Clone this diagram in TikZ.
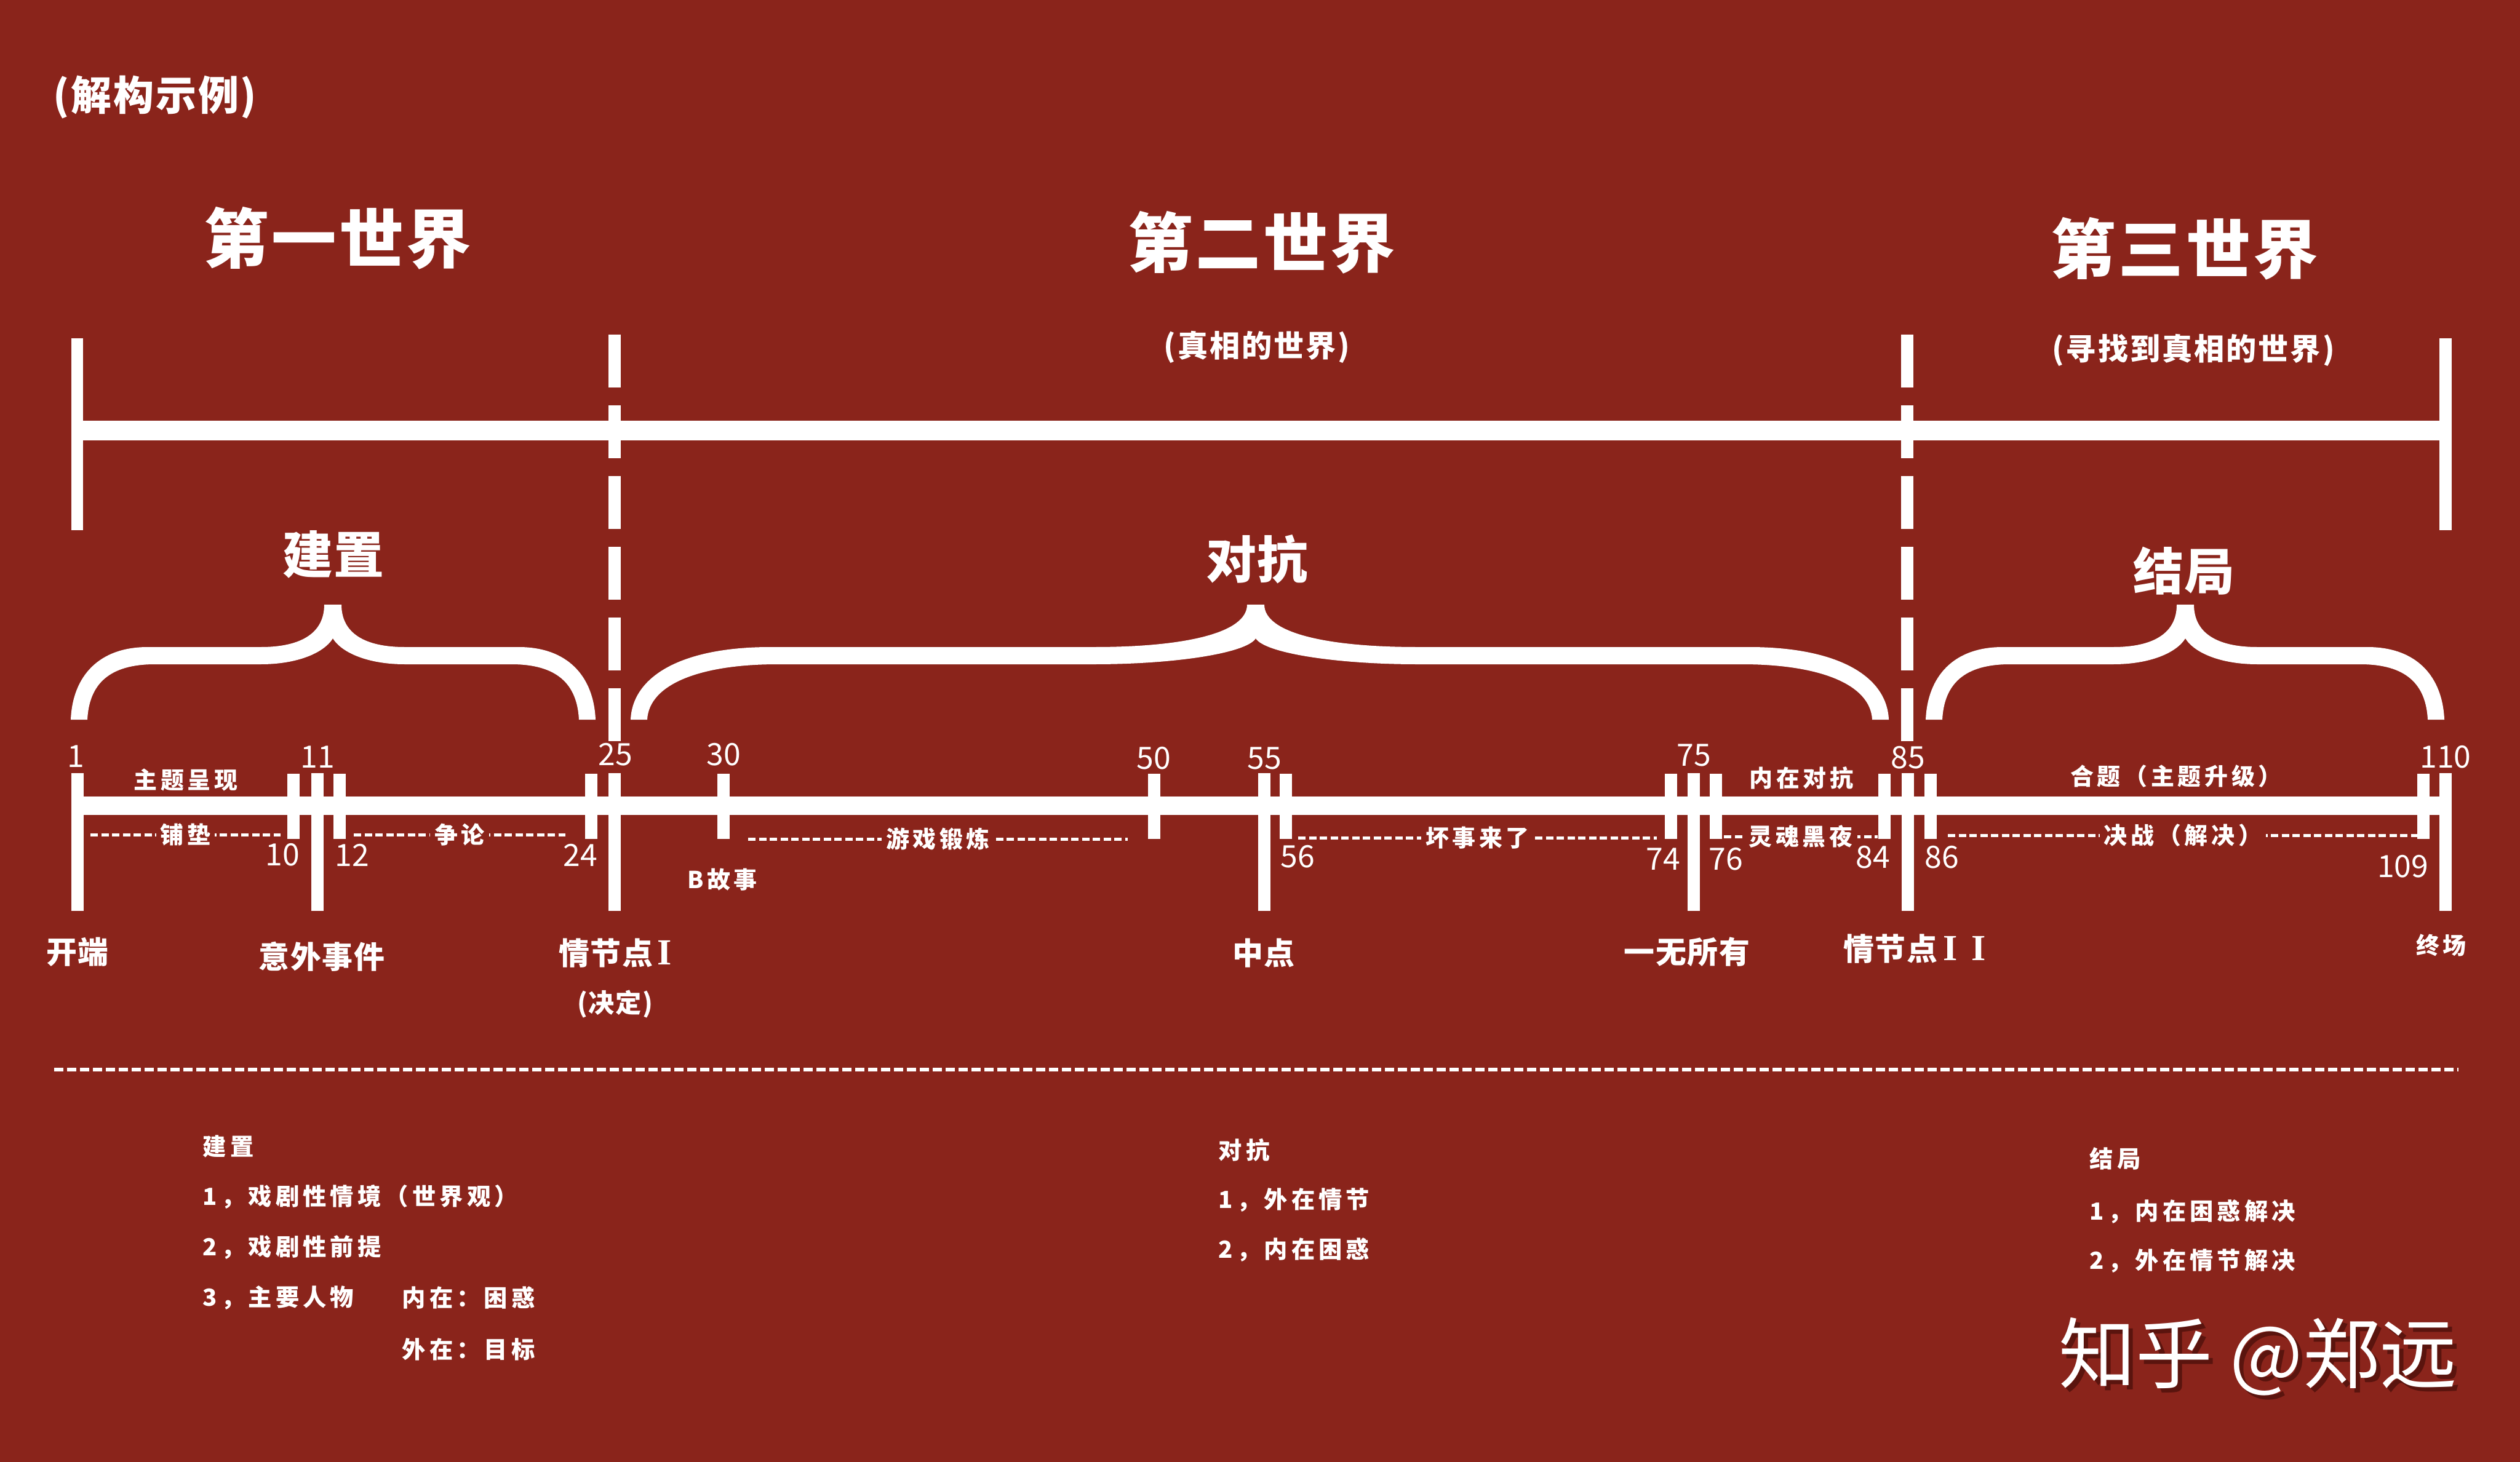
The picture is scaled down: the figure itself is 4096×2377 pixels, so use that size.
\documentclass[tikz,border=0pt]{standalone}
\usepackage{fontspec}
\setmainfont{Noto Sans CJK SC}
\newfontfamily\romfont{Liberation Serif}
\definecolor{bg}{RGB}{138,36,27}
\definecolor{shadowc}{RGB}{90,20,14}
\newcommand{\romI}{{\romfont\fontsize{17pt}{18pt}\selectfont I}}
\tikzset{
  every node/.style={text=white, inner sep=0pt},
  worldtitle/.style={font=\bfseries\fontsize{30pt}{32pt}\selectfont\addfontfeature{LetterSpace=4}},
  worldsub/.style={font=\bfseries\fontsize{14pt}{16pt}\selectfont\addfontfeature{LetterSpace=6}},
  actlabel/.style={font=\bfseries\fontsize{23.3pt}{25pt}\selectfont\addfontfeature{LetterSpace=2}},
  numlab/.style={font=\fontsize{14.2pt}{16pt}\selectfont},
  smalllab/.style={font=\bfseries\fontsize{10.8pt}{12pt}\selectfont\addfontfeature{LetterSpace=15}},
  dashlab/.style={smalllab, fill=bg, inner xsep=0.7mm, inner ysep=0.5mm},
  eventlab/.style={font=\bfseries\fontsize{14.2pt}{16pt}\selectfont\addfontfeature{LetterSpace=3}},
  listtxt/.style={font=\bfseries\fontsize{10.9pt}{12pt}\selectfont\addfontfeature{LetterSpace=16}, anchor=west},
  labdash/.style={draw=white, line width=0.5mm, dash pattern=on 1.2mm off 0.55mm},
  sepdash/.style={draw=white, line width=0.6mm, dash pattern=on 1.5mm off 0.6mm},
  worlddash/.style={draw=white, line width=2mm, dash pattern=on 8.6mm off 2.9mm},
  wmark/.style={font=\fontsize{35.6pt}{38pt}\selectfont}
}
% brace: #1 left end, #2 centre, #3 right end, #4 end-curve width, #5 centre-curve width
\newcommand{\mybrace}[5]{%
  \fill[white] (#1,1170) .. controls ({#1+3},1100) and ({#1+0.36*#4},1052) .. ({#1+#4},1052)
    -- ({#2-#5},1052) .. controls ({#2-0.45*#5},1052) and ({#2-14},1030) .. ({#2-14},983)
    -- ({#2+14},983) .. controls ({#2+14},1030) and ({#2+0.45*#5},1052) .. ({#2+#5},1052)
    -- ({#3-#4},1052) .. controls ({#3-0.36*#4},1052) and ({#3-3},1100) .. (#3,1170)
    -- ({#3-27},1170) .. controls ({#3-30},1112) and ({#3-0.5*#4},1080) .. ({#3-#4-12},1080)
    -- ({#2+#5},1080) .. controls ({#2+0.5*#5},1080) and ({#2+15},1062) .. (#2,1038)
    .. controls ({#2-15},1062) and ({#2-0.5*#5},1080) .. ({#2-#5},1080)
    -- ({#1+#4+12},1080) .. controls ({#1+0.5*#4},1080) and ({#1+30},1112) .. ({#1+27},1170) -- cycle;}
\begin{document}
\begin{tikzpicture}[x=0.1mm,y=-0.1mm]
\useasboundingbox (0,0) rectangle (4096,2377);
\fill[bg] (0,0) rectangle (4096,2377);

% header
\node (hdr) at (252,158) [font=\bfseries\fontsize{18.8pt}{20pt}\selectfont\addfontfeature{LetterSpace=4}] {(解构示例)};

% world titles
\node[worldtitle] (w1) at (549,387) {第一世界};
\node[worldtitle] (w2) at (2051,394) {第二世界};
\node[worldtitle] (w3) at (3551,404) {第三世界};
\node[worldsub] (w2s) at (2043,564) {(真相的世界)};
\node[worldsub] (w3s) at (3565,569) {(寻找到真相的世界)};

% top span bar
\fill[white] (116,550) rectangle (135,862);
\fill[white] (3965,550) rectangle (3985,862);
\fill[white] (125,684) rectangle (3975,716);
\draw[worlddash] (999,544) -- (999,1205);
\draw[worlddash] (3100,544) -- (3100,1205);

% act labels and braces
\node[actlabel] (a1) at (542,901) {建置};
\node[actlabel] (a2) at (2043,909) {对抗};
\node[actlabel] (a3) at (3550,928) {结局};
\mybrace{115}{541}{968}{125}{117}
\mybrace{1025}{2041}{3070}{227}{263}
\mybrace{3130}{3552}{3973}{125}{117}

% timeline
\fill[white] (116,1295) rectangle (3984,1325);
\foreach \x in {477,552,961,1176,1876,2090,2716,2789,3063,3138,3939}
  \fill[white] ({\x-10},1258) rectangle ({\x+10},1364);
\foreach \x in {126,516,999,2055,2753,3101,3975}
  \fill[white] ({\x-10},1257) rectangle ({\x+10},1481);

% numbers above
\node[numlab] (n1) at (123,1230) {1};
\node[numlab] (n11) at (516,1231) {11};
\node[numlab] (n25) at (1000,1227) {25};
\node[numlab] (n30) at (1176,1227) {30};
\node[numlab] (n50) at (1875,1233) {50};
\node[numlab] (n55) at (2055,1233) {55};
\node[numlab] (n75) at (2753,1228) {75};
\node[numlab] (n85) at (3101,1232) {85};
\node[numlab] (n110) at (3975,1231) {110};
% numbers below
\node[numlab, anchor=east] (n10) at (488,1390) {10};
\node[numlab, anchor=west] (n12) at (544,1390) {12};
\node[numlab, anchor=east] (n24) at (972,1390) {24};
\node[numlab, anchor=west] (n56) at (2081,1393) {56};
\node[numlab, anchor=east] (n74) at (2732,1397) {74};
\node[numlab, anchor=west] (n76) at (2777,1397) {76};
\node[numlab, anchor=east] (n84) at (3073,1394) {84};
\node[numlab, anchor=west] (n86) at (3128,1394) {86};
\node[numlab, anchor=east] (n109) at (3948,1409) {109};

% labels on the line
\node[smalllab] (l1) at (302,1268) {主题呈现};
\node[smalllab] (l2) at (2928,1265) {内在对抗};
\node[smalllab] (l3) at (3537,1262) {合题（主题升级）};
\node[smalllab] (l4) at (1174,1430) {B故事};
\draw[labdash] (147,1357) -- (456,1357) node[dashlab, midway] (d1) {铺垫};
\draw[labdash] (575,1357) -- (919,1357) node[dashlab, midway] (d2) {争论};
\draw[labdash] (1216,1364) -- (1833,1364) node[dashlab, midway] (d3) {游戏锻炼};
\draw[labdash] (2110,1362) -- (2693,1362) node[dashlab, midway] (d4) {坏事来了};
\draw[labdash] (2802,1360) -- (3052,1360) node[dashlab, midway] (d5) {灵魂黑夜};
\draw[labdash] (3166,1358) -- (3930,1358) node[dashlab, midway] (d6) {决战（解决）};

% event labels
\node[eventlab] (e1) at (126,1548) {开端};
\node[eventlab] (e2) at (523,1555) {意外事件};
\node[eventlab] (e3) at (1000,1550) {情节点\hspace{0.15em}\romI};
\node[font=\bfseries\fontsize{12pt}{14pt}\selectfont\addfontfeature{LetterSpace=4}] (e3b) at (1000,1633) {(决定)};
\node[eventlab] (e4) at (2054,1550) {中点};
\node[eventlab] (e5) at (2742,1548) {一无所有};
\node[eventlab] (e6) at (3112,1543) {情节点\hspace{0.2em}\romI\hspace{0.45em}\romI};
\node[smalllab] (e7) at (3968,1537) {终场};

% separator
\draw[sepdash] (88,1739) -- (3996,1739);

% lists
\node[listtxt] (s0) at (329,1864) {建置};
\node[listtxt] (s1) at (329,1946) {1，戏剧性情境（世界观）};
\node[listtxt] (s2) at (329,2028) {2，戏剧性前提};
\node[listtxt] (s3) at (329,2110) {3，主要人物};
\node[listtxt] (s3a) at (653,2110) {内在：困惑};
\node[listtxt] (s3b) at (653,2194) {外在：目标};
\node[listtxt] (c0) at (1980,1870) {对抗};
\node[listtxt] (c1) at (1980,1951) {1，外在情节};
\node[listtxt] (c2) at (1980,2032) {2，内在困惑};
\node[listtxt] (r0) at (3396,1884) {结局};
\node[listtxt] (r1) at (3396,1970) {1，内在困惑解决};
\node[listtxt] (r2) at (3396,2050) {2，外在情节解决};

% watermark
\node[wmark, text=shadowc, anchor=west] (wms) at (3353,2213) {知乎 @郑远};
\node[wmark, anchor=west] (wm) at (3346,2206) {知乎 @郑远};
\end{tikzpicture}
\end{document}
